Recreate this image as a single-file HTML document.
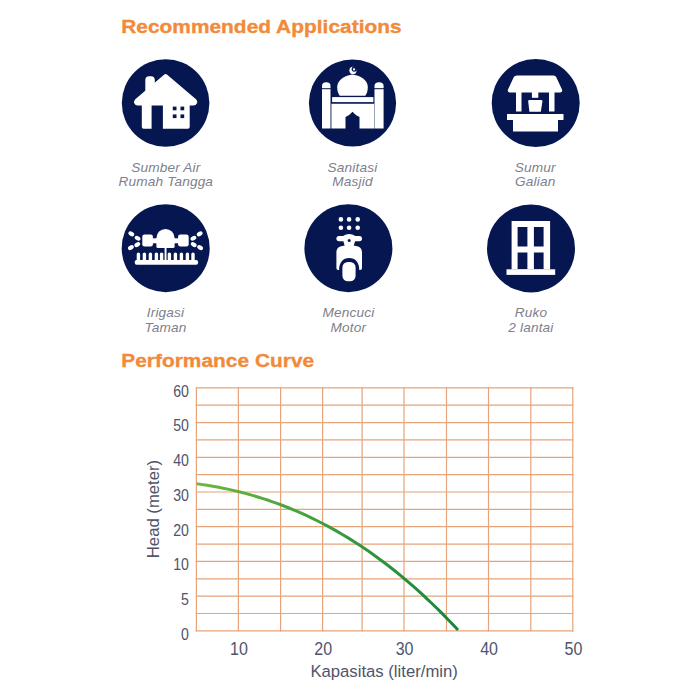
<!DOCTYPE html>
<html><head><meta charset="utf-8"><style>
html,body{margin:0;padding:0;background:#fff;width:700px;height:700px;overflow:hidden}
svg{position:absolute;left:0;top:0}
text{font-family:"Liberation Sans",sans-serif}
.h{font-weight:bold;font-size:18.6px;fill:#f28a3a;stroke:#f28a3a;stroke-width:0.35px;letter-spacing:0.05px}
.cap{font-style:italic;font-size:12.4px;fill:#80808c;letter-spacing:0.15px;text-anchor:middle}
.ax{font-size:15.7px;fill:#50546a}
.ax .xl{font-size:17.8px}
.at{font-size:16.7px;fill:#50546a}
</style></head><body>
<svg width="700" height="700" viewBox="0 0 700 700">
<text class="h" transform="translate(121.2,33.4) scale(1.12,1)">Recommended Applications</text>
<text class="h" transform="translate(121.2,366.9) scale(1.12,1)">Performance Curve</text>
<g fill="#061650">
<circle cx="165.6" cy="103" r="43.8"/>
<circle cx="352.5" cy="103" r="43.6"/>
<circle cx="535.7" cy="103" r="44"/>
<circle cx="165.7" cy="248.2" r="44"/>
<circle cx="348.4" cy="248.2" r="44"/>
<circle cx="531" cy="248.4" r="44"/>
</g>

<g fill="#fff">
  <rect x="145.3" y="76.2" width="9.5" height="20" rx="3.8"/>
  <path d="M164.3,74.6 Q165.6,73.4 166.9,74.6 L196.3,99.5 Q197.8,101.5 196.8,103.5 Q195.8,105.6 193.5,105.6 L189.7,105.6 L189.7,127 Q189.7,128.8 187.9,128.8 L162.9,128.8 L162.9,105.6 L151.6,105.6 L151.6,128.8 L143.6,128.8 Q141.8,128.8 141.8,127 L141.8,105.6 L137.6,105.6 Q135.3,105.6 134.4,103.5 Q133.5,101.5 135,99.5 Z"/>
</g>
<g fill="#061650">
  <rect x="172.8" y="106.6" width="3.7" height="3.7"/>
  <rect x="180.5" y="106.6" width="3.7" height="3.7"/>
  <rect x="172.8" y="114.4" width="3.7" height="3.7"/>
  <rect x="180.5" y="114.4" width="3.7" height="3.7"/>
</g>


<g fill="#fff">
  <path d="M352.5,74.6 C355,74.8 367.8,77.5 367.8,87.5 C367.8,91.5 366.5,94 365.3,95.8 L339.7,95.8 C338.5,94 337.2,91.5 337.2,87.5 C337.2,77.5 350,74.8 352.5,74.6 Z"/>
  <path d="M322,128.4 L322,86 Q322,82.3 326.25,82.3 Q330.5,82.3 330.5,86 L330.5,128.4 Z"/>
  <path d="M374.5,128.4 L374.5,86 Q374.5,82.3 379,82.3 Q383.6,82.3 383.6,86 L383.6,128.4 Z"/>
  <rect x="332.1" y="97.1" width="41.3" height="5"/>
  <path d="M331.4,103.7 L374.2,103.7 L374.2,128.4 L359.5,128.4 L359.5,117.1 Q356,116 352.5,111.8 Q349,116 345.5,117.1 L345.5,128.4 L331.4,128.4 Z"/>
  <circle cx="353" cy="70.4" r="3.6"/>
</g>
<circle cx="354.3" cy="69.1" r="2.7" fill="#061650"/>
<circle cx="354" cy="69.4" r="1.15" fill="#fff"/>
<g fill="#061650">
  <rect x="321" y="88.2" width="10.5" height="1"/>
  <rect x="373.5" y="88.2" width="11" height="1"/>
</g>


<g fill="#fff">
  <path d="M517,75.5 L553.5,75.5 Q555.5,75.5 556.3,77.3 L562,89.5 Q563,92.5 560,92.5 L510,92.5 Q507,92.5 508,89.5 L513.7,77.3 Q514.5,75.5 517,75.5 Z"/>
  <rect x="516" y="92" width="5.5" height="19.5"/>
  <rect x="549" y="92" width="5.5" height="19.5"/>
  <rect x="531.9" y="92" width="6.4" height="5.8"/>
  <path d="M529.4,100.1 L541.2,100.1 Q542.5,100.1 542.4,101.5 L540.8,111.8 L529.4,111.8 L528.2,101.5 Q528.1,100.1 529.4,100.1 Z"/>
  <rect x="507" y="114" width="56.5" height="6" rx="0.5"/>
  <rect x="513" y="119.5" width="45" height="12"/>
</g>


<g fill="#fff">
  <circle cx="165.5" cy="238" r="9.1"/>
  <rect x="156.4" y="238" width="18.2" height="10" rx="1.5"/>
  <rect x="142.3" y="234.6" width="10.6" height="11.8" rx="2.2"/>
  <rect x="178.1" y="234.6" width="10.6" height="11.8" rx="2.2"/>
  <rect x="152" y="238.3" width="6" height="5"/>
  <rect x="173" y="238.3" width="6" height="5"/>
  <rect x="164.6" y="246" width="1.9" height="16"/>
  <rect x="136.7" y="252.4" width="3.4" height="10" rx="1.7"/><rect x="142.7" y="252.4" width="3.4" height="10" rx="1.7"/><rect x="148.7" y="252.4" width="3.4" height="10" rx="1.7"/><rect x="154.7" y="252.4" width="3.4" height="10" rx="1.7"/><rect x="159.9" y="252.4" width="3.4" height="10" rx="1.7"/><rect x="167.7" y="252.4" width="3.4" height="10" rx="1.7"/><rect x="173.7" y="252.4" width="3.4" height="10" rx="1.7"/><rect x="179.7" y="252.4" width="3.4" height="10" rx="1.7"/><rect x="185.7" y="252.4" width="3.4" height="10" rx="1.7"/><rect x="191.3" y="252.4" width="3.4" height="10" rx="1.7"/>
  <rect x="134.7" y="260.1" width="63.4" height="4.6" rx="2"/>
  <ellipse cx="131.3" cy="233.9" rx="3.1" ry="2.1" transform="rotate(30 131.3 233.9)"/><ellipse cx="199.7" cy="233.9" rx="3.1" ry="2.1" transform="rotate(-30 199.7 233.9)"/><ellipse cx="137.6" cy="238.2" rx="3.1" ry="2.1" transform="rotate(30 137.6 238.2)"/><ellipse cx="193.4" cy="238.2" rx="3.1" ry="2.1" transform="rotate(-30 193.4 238.2)"/><ellipse cx="130.9" cy="247.6" rx="3.1" ry="2.1" transform="rotate(-30 130.9 247.6)"/><ellipse cx="200.1" cy="247.6" rx="3.1" ry="2.1" transform="rotate(30 200.1 247.6)"/><ellipse cx="137.3" cy="244.6" rx="3.1" ry="2.1" transform="rotate(-30 137.3 244.6)"/><ellipse cx="193.7" cy="244.6" rx="3.1" ry="2.1" transform="rotate(30 193.7 244.6)"/>
</g>


<g fill="#fff">
  <circle cx="340.9" cy="219.4" r="2.3"/><circle cx="349.1" cy="219.4" r="2.3"/><circle cx="357.7" cy="219.4" r="2.3"/>
  <circle cx="340.9" cy="227.7" r="2.3"/><circle cx="349.1" cy="227.7" r="2.3"/><circle cx="357.7" cy="227.7" r="2.3"/>
  <path d="M338.9,236 L343,236 Q346,234 349.2,234 Q352.4,234 355.4,236 L359.5,236 Q362,236 362,238.6 Q362,241.2 359.5,241.2 L355,241.2 L353.5,246.8 L344.9,246.8 L343.4,241.2 L338.9,241.2 Q336.4,241.2 336.4,238.6 Q336.4,236 338.9,236 Z"/>
  <path d="M336.4,268 L336.4,252.5 C336.4,246.8 340.5,245.6 349.2,245.6 C357.9,245.6 362,246.8 362,252.5 L362,268 Q362,270 360.2,270 L359.3,270 C359.3,262.5 355.5,258 349.2,258 C342.9,258 339.1,262.5 339.1,270 L338.2,270 Q336.4,270 336.4,268 Z"/>
  <rect x="342.4" y="262" width="13.2" height="19.3" rx="5.5"/>
</g>
<circle cx="349.2" cy="240.4" r="1.5" fill="#061650"/>


<g fill="#fff">
  <path fill-rule="evenodd" d="M511.6,221 L550.1,221 L550.1,269.5 L511.6,269.5 Z M517.6,227.1 L517.6,246.6 L527.4,246.6 L527.4,227.1 Z M533.9,227.1 L533.9,246.6 L543.6,246.6 L543.6,227.1 Z M517.6,252.6 L517.6,268.9 L527.4,268.9 L527.4,252.6 Z M533.9,252.6 L533.9,268.9 L543.6,268.9 L543.6,252.6 Z"/>
  <rect x="506.5" y="269.3" width="48.7" height="5.6"/>
</g>

<g class="cap">
<text transform="translate(165.8,171.8) scale(1.1,1)">Sumber Air</text><text transform="translate(165.8,186.4) scale(1.1,1)">Rumah Tangga</text>
<text transform="translate(352.5,171.8) scale(1.1,1)">Sanitasi</text><text transform="translate(352.5,186.4) scale(1.1,1)">Masjid</text>
<text transform="translate(535.2,171.8) scale(1.1,1)">Sumur</text><text transform="translate(535.2,186.4) scale(1.1,1)">Galian</text>
<text transform="translate(165.5,317.4) scale(1.1,1)">Irigasi</text><text transform="translate(165.5,332.0) scale(1.1,1)">Taman</text>
<text transform="translate(348.4,317.4) scale(1.1,1)">Mencuci</text><text transform="translate(348.4,332.0) scale(1.1,1)">Motor</text>
<text transform="translate(530.9,317.4) scale(1.1,1)">Ruko</text><text transform="translate(530.9,332.0) scale(1.1,1)">2 lantai</text>
</g>
<g stroke="#e6a47a" stroke-width="1.2" fill="none" stroke-linecap="square">
<line x1="196.4" y1="387.85" x2="196.4" y2="630.85"/>
<line x1="238.4" y1="387.85" x2="238.4" y2="630.85"/>
<line x1="280.6" y1="387.85" x2="280.6" y2="630.85"/>
<line x1="322.6" y1="387.85" x2="322.6" y2="630.85"/>
<line x1="362.1" y1="387.85" x2="362.1" y2="630.85"/>
<line x1="404" y1="387.85" x2="404" y2="630.85"/>
<line x1="446.5" y1="387.85" x2="446.5" y2="630.85"/>
<line x1="488.5" y1="387.85" x2="488.5" y2="630.85"/>
<line x1="530.8" y1="387.85" x2="530.8" y2="630.85"/>
<line x1="572.8" y1="387.85" x2="572.8" y2="630.85"/>
<line x1="196.4" y1="387.85" x2="572.8" y2="387.85"/>
<line x1="196.4" y1="405.21" x2="572.8" y2="405.21"/>
<line x1="196.4" y1="422.56" x2="572.8" y2="422.56"/>
<line x1="196.4" y1="439.92" x2="572.8" y2="439.92"/>
<line x1="196.4" y1="457.28" x2="572.8" y2="457.28"/>
<line x1="196.4" y1="474.64" x2="572.8" y2="474.64"/>
<line x1="196.4" y1="491.99" x2="572.8" y2="491.99"/>
<line x1="196.4" y1="509.35" x2="572.8" y2="509.35"/>
<line x1="196.4" y1="526.71" x2="572.8" y2="526.71"/>
<line x1="196.4" y1="544.06" x2="572.8" y2="544.06"/>
<line x1="196.4" y1="561.42" x2="572.8" y2="561.42"/>
<line x1="196.4" y1="578.78" x2="572.8" y2="578.78"/>
<line x1="196.4" y1="596.14" x2="572.8" y2="596.14"/>
<line x1="196.4" y1="613.49" x2="572.8" y2="613.49"/>
<line x1="196.4" y1="630.85" x2="572.8" y2="630.85"/>
</g>
<defs><linearGradient id="gg" x1="196" y1="0" x2="458" y2="0" gradientUnits="userSpaceOnUse">
<stop offset="0" stop-color="#6fb83e"/><stop offset="0.5" stop-color="#3f9c3e"/><stop offset="1" stop-color="#16863a"/></linearGradient></defs>
<path d="M196.60,483.76 L201.03,484.37 L205.46,485.03 L209.89,485.74 L214.32,486.51 L218.75,487.33 L223.18,488.20 L227.61,489.13 L232.04,490.11 L236.47,491.15 L240.91,492.25 L245.34,493.40 L249.77,494.61 L254.20,495.88 L258.63,497.21 L263.06,498.60 L267.49,500.05 L271.92,501.56 L276.35,503.14 L280.78,504.78 L285.21,506.48 L289.64,508.24 L294.07,510.07 L298.50,511.97 L302.93,513.93 L307.36,515.96 L311.79,518.06 L316.22,520.23 L320.65,522.47 L325.08,524.77 L329.52,527.15 L333.95,529.60 L338.38,532.12 L342.81,534.71 L347.24,537.38 L351.67,540.12 L356.10,542.94 L360.53,545.83 L364.96,548.80 L369.39,551.85 L373.82,554.97 L378.25,558.18 L382.68,561.46 L387.11,564.82 L391.54,568.26 L395.97,571.79 L400.40,575.39 L404.83,579.08 L409.26,582.85 L413.69,586.71 L418.13,590.65 L422.56,594.68 L426.99,598.79 L431.42,602.99 L435.85,607.28 L440.28,611.66 L444.71,616.13 L449.14,620.68 L453.57,625.33 L458.00,630.07" stroke="url(#gg)" stroke-width="3" fill="none" stroke-linecap="butt"/>
<g class="ax">
<text transform="translate(188.9,396.65) scale(0.9,1)" text-anchor="end">60</text>
<text transform="translate(188.9,431.36) scale(0.9,1)" text-anchor="end">50</text>
<text transform="translate(188.9,466.08) scale(0.9,1)" text-anchor="end">40</text>
<text transform="translate(188.9,500.79) scale(0.9,1)" text-anchor="end">30</text>
<text transform="translate(188.9,535.51) scale(0.9,1)" text-anchor="end">20</text>
<text transform="translate(188.9,570.22) scale(0.9,1)" text-anchor="end">10</text>
<text transform="translate(188.9,604.94) scale(0.9,1)" text-anchor="end">5</text>
<text transform="translate(188.9,639.65) scale(0.9,1)" text-anchor="end">0</text>
<text class="xl" transform="translate(239.0,654.8) scale(0.9,1)" text-anchor="middle">10</text>
<text class="xl" transform="translate(323.20000000000005,654.8) scale(0.9,1)" text-anchor="middle">20</text>
<text class="xl" transform="translate(404.6,654.8) scale(0.9,1)" text-anchor="middle">30</text>
<text class="xl" transform="translate(489.1,654.8) scale(0.9,1)" text-anchor="middle">40</text>
<text class="xl" transform="translate(573.4,654.8) scale(0.9,1)" text-anchor="middle">50</text>
</g>
<text class="at" x="310.4" y="677">Kapasitas (liter/min)</text>
<text class="at" transform="translate(159.3,558.2) rotate(-90)">Head (meter)</text>
</svg>
</body></html>
